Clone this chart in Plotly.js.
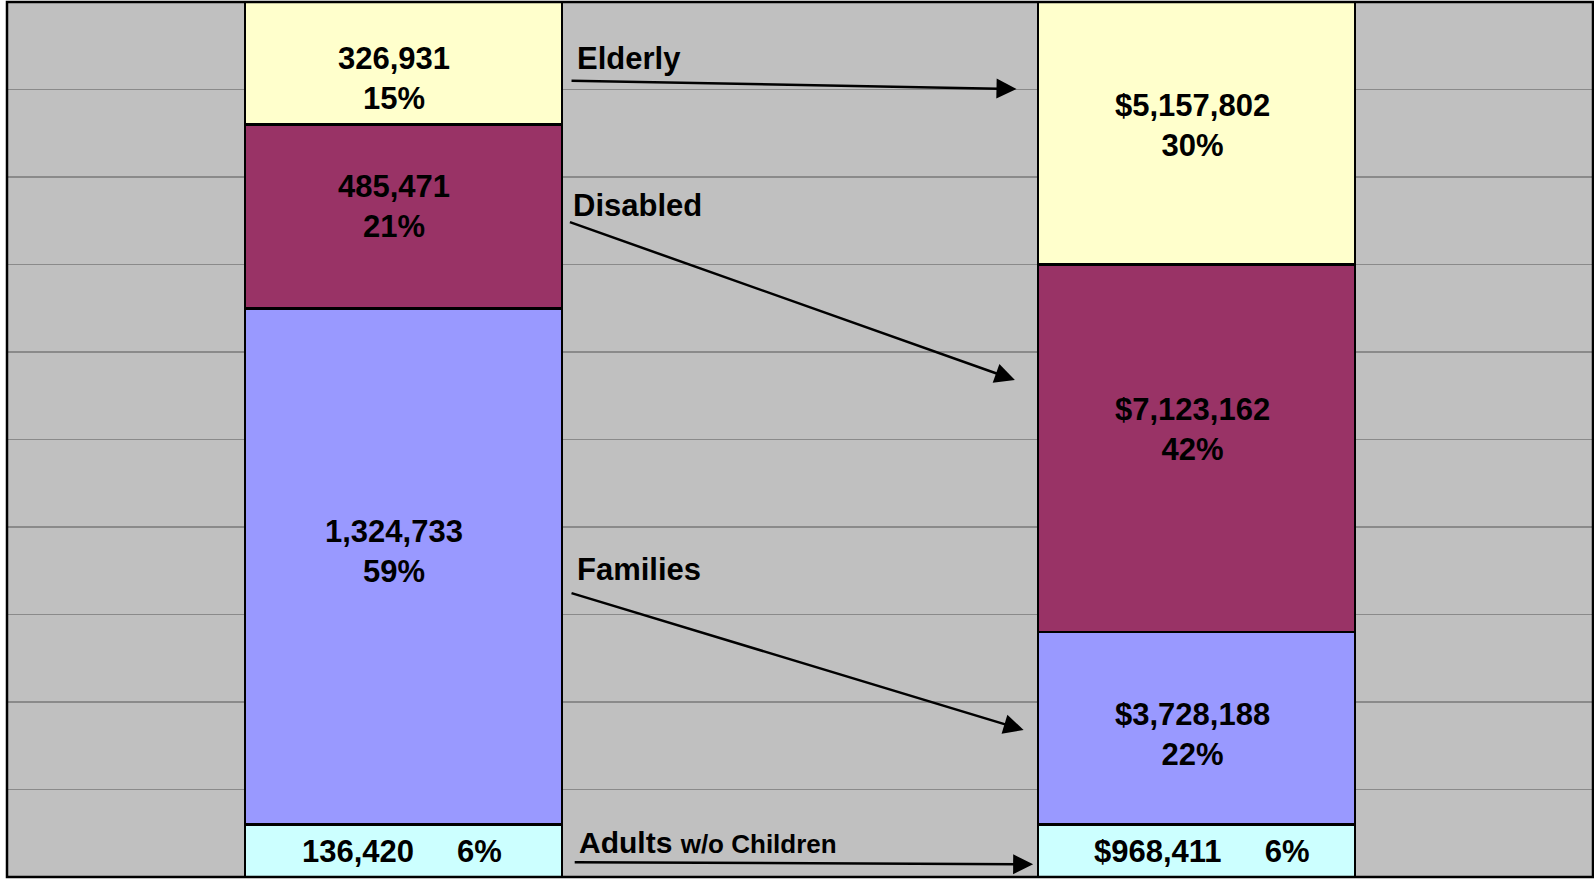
<!DOCTYPE html>
<html>
<head>
<meta charset="utf-8">
<script src="https://cdn.plot.ly/plotly-3.0.1.min.js"></script>
<style>
  html, body { margin: 0; padding: 0; background: #ffffff; }
  #chart { width: 1594px; height: 879px; }
</style>
</head>
<body>
<div id="chart"></div>
<script>
// ---- data ----
var columns = ['Recipients', 'Expenditures'];
var groups = ['Adults', 'Families', 'Disabled', 'Elderly'];
var groupColors = ['#CCFFFF', '#9999FF', '#993366', '#FFFFCC'];

// percentage shares (as drawn / labelled)
var recipientPct   = [6, 59, 21, 15];
var expenditurePct = [6, 22, 42, 30];

// value labels
var recipientCounts    = ['136,420', '1,324,733', '485,471', '326,931'];
var expenditureDollars = ['$968,411', '$3,728,188', '$7,123,162', '$5,157,802'];

// category labels with arrows
var arrowLabels = ['Adults <span style="font-size:26px">w/o Children</span>', 'Families', 'Disabled', 'Elderly'];

// ---- styling / placement (not data) ----
var FONT = 'Liberation Sans, Arial, sans-serif';
// per-label pixel nudges for the value labels [recipients, expenditures]
var labelNudgeX = [[-2, 5], [-10, -4], [-10, -4], [-10, -4]];
var labelNudgeY = [[-1, -1], [15, -6], [10, 19], [-20, 8]];

// ---- build ----
var NB = '\u00A0\u00A0\u00A0\u00A0\u00A0';
function label(val, pct, single) {
  return single ? (val + NB + pct + '%') : (val + '<br>' + pct + '%');
}

var traces = groups.map(function (g, i) {
  return {
    type: 'bar',
    name: g,
    x: columns,
    y: [recipientPct[i], expenditurePct[i]],
    marker: { color: groupColors[i], line: { color: '#000000', width: 2.5 } },
    hoverinfo: 'skip'
  };
});

var annotations = [];

// value labels at the middle of each stacked segment
[recipientPct, expenditurePct].forEach(function (pcts, c) {
  var vals = (c === 0) ? recipientCounts : expenditureDollars;
  var base = 0;
  for (var i = 0; i < pcts.length; i++) {
    annotations.push({
      x: columns[c], y: base + pcts[i] / 2, xref: 'x', yref: 'y',
      xanchor: 'center', yanchor: 'middle', showarrow: false,
      xshift: labelNudgeX[i][c], yshift: labelNudgeY[i][c],
      text: label(vals[i], pcts[i], i === 0),
      font: { family: FONT, size: 31, color: '#000000', weight: 'bold' }
    });
    base += pcts[i];
  }
});

// arrow geometry (data coordinates: x in category units, y in percent)
var arrowTail = { x: [0.214, 0.210, 0.208, 0.210], y: [1.7, 32.5, 74.9, 91.0] };
var arrowHead = { x: [0.794, 0.782, 0.771, 0.773], y: [1.45, 16.8, 56.8, 90.06] };
var labelPos  = { x: [0.219, 0.216, 0.2106, 0.2163], y: [3.9, 35.1, 76.7, 93.6] };
var labelSize = [30, 31, 31, 31];

for (var i = 0; i < groups.length; i++) {
  annotations.push({
    x: arrowHead.x[i], y: arrowHead.y[i], xref: 'x', yref: 'y',
    ax: arrowTail.x[i], ay: arrowTail.y[i], axref: 'x', ayref: 'y',
    text: '', showarrow: true, arrowhead: 2, arrowsize: 1.6, arrowwidth: 2.5,
    arrowcolor: '#000000', standoff: 0, startstandoff: 0
  });
  annotations.push({
    x: labelPos.x[i], y: labelPos.y[i], xref: 'x', yref: 'y',
    xanchor: 'left', yanchor: 'middle', showarrow: false,
    text: arrowLabels[i],
    font: { family: FONT, size: labelSize[i], color: '#000000', weight: 'bold' }
  });
}

var layout = {
  width: 1594, height: 879,
  margin: { l: 7, r: 1, t: 2, b: 2, pad: 0 },
  paper_bgcolor: '#ffffff',
  plot_bgcolor: '#C0C0C0',
  barmode: 'stack',
  bargap: 0.6,
  showlegend: false,
  xaxis: { type: 'category', range: [-0.5, 1.5], showticklabels: false, showgrid: false, zeroline: false, ticks: '' },
  yaxis: { range: [0, 100], dtick: 10, showticklabels: false, showgrid: true, gridcolor: '#8a8a8a', gridwidth: 1.5, zeroline: false, ticks: '' },
  annotations: annotations,
  shapes: [{ type: 'rect', xref: 'paper', yref: 'paper', x0: 0, x1: 1, y0: 0, y1: 1, line: { color: '#000000', width: 2.5 }, fillcolor: 'rgba(0,0,0,0)', layer: 'above' }]
};

Plotly.newPlot('chart', traces, layout, { displayModeBar: false, staticPlot: true });
</script>
</body>
</html>
